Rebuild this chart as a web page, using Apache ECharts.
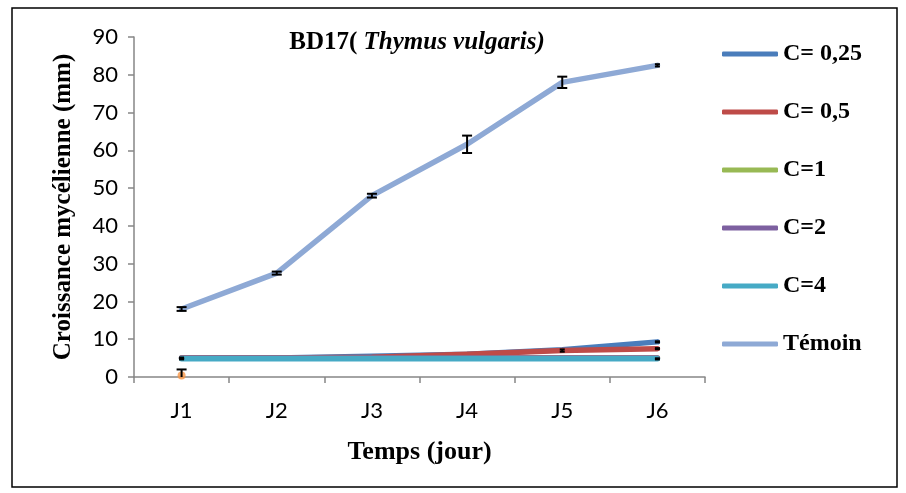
<!DOCTYPE html>
<html>
<head>
<meta charset="utf-8">
<script src="https://cdn.jsdelivr.net/npm/echarts@6/dist/echarts.min.js"></script>
<style>
  html, body { margin: 0; padding: 0; background: #fff; }
  #chart { width: 906px; height: 493px; }
</style>
</head>
<body>
<div id="chart"></div>
<script>
// Mycelial growth of BD17 under Thymus vulgaris essential oil
const days = ['J1', 'J2', 'J3', 'J4', 'J5', 'J6'];
const yTicks = [0, 10, 20, 30, 40, 50, 60, 70, 80, 90];

const seriesNames = ['C= 0,25', 'C= 0,5', 'C=1', 'C=2', 'C=4', 'Témoin'];
const c025 = [5, 5, 5.5, 6, 7.2, 9.3];
const c05 = [5, 5, 5.2, 6, 7, 7.5];
const c1 = [5, 5, 5, 5, 5, 5];
const c2 = [5, 5, 5, 5, 5, 5];
const c4 = [4.8, 4.8, 4.8, 4.8, 4.8, 4.8];
const temoin = [18, 27.5, 48, 61.6, 78, 82.5];

// standard deviations
const c025Err = [0.15, 0, 0, 0, 0, 0.15];
const c05Err = [0, 0, 0, 0, 0.3, 0.15];
const c4Err = [0.15, 0, 0, 0, 0, 0.15];
const temoinErr = [0.5, 0.4, 0.5, 2.3, 1.5, 0.3];

// isolated replicate plotted at J1
const extraPoint = [0.4, null, null, null, null, null];
const extraErr = [1.6, 0, 0, 0, 0, 0];

const colors = ['#4A7DBB', '#BE4B48', '#98B954', '#7D60A0', '#46AAC5', '#8EA9D5'];
const values = [c025, c05, c1, c2, c4, temoin];

const serif = '"Liberation Serif", "DejaVu Serif", serif';
const sans = 'Lato, "Open Sans", sans-serif';

const errData = [];
[[c025, c025Err], [c05, c05Err], [c4, c4Err], [temoin, temoinErr], [extraPoint, extraErr]].forEach(([v, e]) => {
  v.forEach((val, i) => {
    if (val != null && e[i] > 0) errData.push([i, val, e[i]]);
  });
});

const lineSeries = seriesNames.map((name, k) => ({
  name: name,
  type: 'line',
  data: values[k],
  showSymbol: false,
  symbol: 'none',
  lineStyle: { width: 5.5, color: colors[k], cap: 'round', join: 'round' },
  itemStyle: { color: colors[k] },
  z: 2 + k
}));

// C=4 sits above C=1 and C=2
lineSeries[4].z = 8;

const chart = echarts.init(document.getElementById('chart'));
chart.setOption({
  animation: false,
  backgroundColor: '#fff',
  grid: { left: 134, right: 201, top: 37, bottom: 116, containLabel: false },
  title: {
    text: '{b|BD17(}{i| Thymus vulgaris)}',
    left: 412,
    top: 25,
    textAlign: 'center',
    textStyle: {
      rich: {
        b: { fontFamily: serif, fontWeight: 'bold', fontSize: 25, color: '#000' },
        i: { fontFamily: serif, fontWeight: 'bold', fontStyle: 'italic', fontSize: 25, color: '#000' }
      }
    }
  },
  legend: {
    orient: 'vertical',
    left: 717,
    top: 37,
    itemWidth: 56,
    itemHeight: 5,
    itemGap: 34,
    icon: 'roundRect',
    data: seriesNames,
    textStyle: { fontFamily: serif, fontWeight: 'bold', fontSize: 24, color: '#000', lineHeight: 24 }
  },
  xAxis: {
    type: 'category',
    data: days,
    boundaryGap: true,
    name: 'Temps (jour)',
    nameLocation: 'middle',
    nameGap: 62,
    nameTextStyle: { fontFamily: serif, fontWeight: 'bold', fontSize: 26, color: '#000' },
    axisLine: { lineStyle: { color: '#868686', width: 1.5 } },
    axisTick: { show: true, inside: false, length: 6, alignWithLabel: false, lineStyle: { color: '#868686', width: 1.5 } },
    axisLabel: { fontFamily: sans, fontSize: 22, color: '#000', margin: 23 },
    splitLine: { show: false }
  },
  yAxis: {
    type: 'value',
    min: yTicks[0],
    max: yTicks[yTicks.length - 1],
    interval: 10,
    name: 'Croissance mycélienne (mm)',
    nameLocation: 'middle',
    nameGap: 58,
    nameTextStyle: { fontFamily: serif, fontWeight: 'bold', fontSize: 25, color: '#000' },
    axisLine: { show: true, lineStyle: { color: '#868686', width: 1.5 } },
    axisTick: { show: true, inside: false, length: 6, lineStyle: { color: '#868686', width: 1.5 } },
    axisLabel: { fontFamily: sans, fontSize: 22, color: '#000', margin: 16 },
    splitLine: { show: false }
  },
  series: [
    ...lineSeries,
    {
      name: 'extra',
      type: 'scatter',
      data: extraPoint,
      symbol: 'circle',
      symbolSize: 8,
      itemStyle: { color: '#F79646' },
      z: 9
    },
    {
      name: 'errors',
      type: 'custom',
      data: errData,
      z: 10,
      renderItem: function (params, api) {
        const x = api.value(0);
        const v = api.value(1);
        const e = api.value(2);
        const low = Math.max(0, v - e);
        const top = api.coord([x, v + e]);
        const bot = api.coord([x, low]);
        const hw = e < 0.35 ? 2.5 : 5;
        const style = { stroke: '#000', lineWidth: 2 };
        const children = [
          { type: 'line', shape: { x1: top[0], y1: top[1], x2: bot[0], y2: bot[1] }, style: style },
          { type: 'line', shape: { x1: top[0] - hw, y1: top[1], x2: top[0] + hw, y2: top[1] }, style: style }
        ];
        if (v - e >= 0) {
          children.push({ type: 'line', shape: { x1: bot[0] - hw, y1: bot[1], x2: bot[0] + hw, y2: bot[1] }, style: style });
        }
        return { type: 'group', children: children };
      }
    }
  ],
  graphic: [
    {
      type: 'rect',
      shape: { x: 12, y: 8, width: 885, height: 479 },
      style: { fill: 'none', stroke: '#000', lineWidth: 1.5 },
      silent: true
    }
  ]
});
</script>
</body>
</html>
